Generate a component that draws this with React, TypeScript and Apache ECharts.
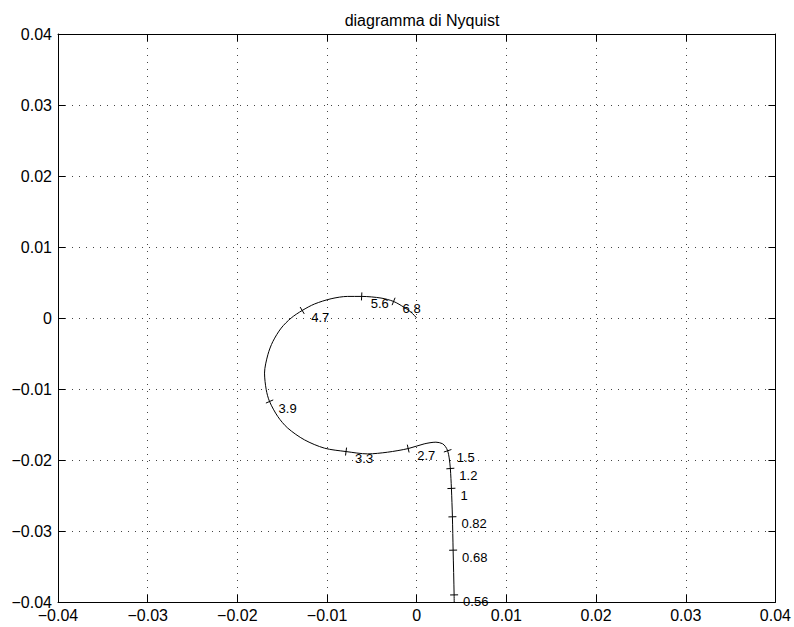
import React, { useEffect, useRef } from "react";
import * as echarts from "echarts";

// Nyquist curve (ordered by increasing frequency)
const curveX = [
  0.0042, 0.00417, 0.00406, 0.00398, 0.00387, 0.00375, 0.00362, 0.00345, 0.0032, 0.00287,
  0.00214, 0.00083, -0.00095, -0.00325, -0.00547, -0.00788, -0.01029, -0.01252, -0.01438, -0.01549,
  -0.01641, -0.01678, -0.01697, -0.0166, -0.01604, -0.01511, -0.014, -0.01277, -0.0114, -0.00955,
  -0.0077, -0.00614, -0.00398, -0.00258, -0.00139, -0.00065, 0,
];
const curveY = [
  -0.043, -0.039, -0.0327, -0.028, -0.024, -0.0212, -0.0197, -0.0187, -0.0181, -0.0177,
  -0.01749, -0.01773, -0.01839, -0.0189, -0.01914, -0.01881, -0.01833, -0.01716, -0.01551, -0.01388,
  -0.01176, -0.01011, -0.00776, -0.00518, -0.00331, -0.00142, 0.0, 0.00106, 0.00197, 0.00271,
  0.00304, 0.00304, 0.00281, 0.00233, 0.00149, 0.00084, 0,
];

// frequency marks along the curve
const freqLabels = ["0.56", "0.68", "0.82", "1", "1.2", "1.5", "2.7", "3.3", "3.9", "4.7", "5.6", "6.8"];
const freqX = [0.00417, 0.00406, 0.00398, 0.00387, 0.00375, 0.00345, -0.00095, -0.00788, -0.01641, -0.01277, -0.00614, -0.00258];
const freqY = [-0.039, -0.0327, -0.028, -0.024, -0.0212, -0.0187, -0.01839, -0.01881, -0.01176, 0.00106, 0.00304, 0.00233];

const axisMin = -0.04;
const axisMax = 0.04;
const axisStep = 0.01;
const titleText = "diagramma di Nyquist";

const FONT = "'Liberation Sans', Arial, Helvetica, sans-serif";

const fmt = (v: number) => {
  const r = Math.round(v * 1000) / 1000;
  const s = r === 0 ? "0" : String(r);
  return s.replace("-", "\u2212");
};

export default function App() {
  const ref = useRef<HTMLDivElement>(null);

  useEffect(() => {
    if (!ref.current) return;
    const chart = echarts.init(ref.current, undefined, { renderer: "svg" });

    const curveData = curveX.map((x, i) => [x, curveY[i]]);
    const tickData = freqX.map((x, i) => [x, freqY[i], i]);

    const baseAxis = {
      type: "value" as const,
      min: axisMin,
      max: axisMax,
      interval: axisStep,
      axisLine: { show: true, onZero: false, lineStyle: { color: "#000", width: 1 } },
      axisTick: { show: true, inside: true, length: 7, lineStyle: { color: "#000", width: 1 } },
    };

    chart.setOption({
      animation: false,
      backgroundColor: "#fff",
      title: {
        text: titleText,
        left: 417,
        textAlign: "center",
        top: 7,
        textStyle: { fontSize: 16, fontWeight: "normal", color: "#000", fontFamily: FONT },
      },
      grid: { left: 58, top: 34, width: 719, height: 568, containLabel: false },
      xAxis: [
        {
          ...baseAxis,
          position: "bottom",
          axisLabel: {
            formatter: fmt,
            color: "#000",
            fontSize: 16,
            fontFamily: FONT,
            margin: 5,
            showMinLabel: true,
            showMaxLabel: true,
            hideOverlap: false,
          },
          splitLine: { show: true, lineStyle: { color: "#444", width: 1, type: [1, 6] } },
        },
        {
          ...baseAxis,
          position: "top",
          axisLabel: { show: false },
          splitLine: { show: false },
        },
      ],
      yAxis: [
        {
          ...baseAxis,
          position: "left",
          axisLabel: {
            formatter: fmt,
            color: "#000",
            fontSize: 16,
            fontFamily: FONT,
            margin: 6,
            showMinLabel: true,
            showMaxLabel: true,
            hideOverlap: false,
          },
          splitLine: { show: true, lineStyle: { color: "#444", width: 1, type: [1, 6] } },
        },
        {
          ...baseAxis,
          position: "right",
          axisLabel: { show: false },
          splitLine: { show: false },
        },
      ],
      series: [
        {
          type: "line",
          data: curveData,
          xAxisIndex: 0,
          yAxisIndex: 0,
          showSymbol: false,
          symbol: "none",
          smooth: 0.3,
          clip: true,
          lineStyle: { color: "#000", width: 1 },
          silent: true,
        },
        {
          type: "custom",
          xAxisIndex: 0,
          yAxisIndex: 0,
          data: tickData,
          silent: true,
          renderItem: (params: any, api: any) => {
            const x = api.value(0);
            const y = api.value(1);
            const idx = api.value(2);
            const p = api.coord([x, y]);
            // nearest curve point for tangent direction
            let best = 0;
            let bd = Infinity;
            for (let j = 0; j < curveX.length; j++) {
              const d = (curveX[j] - x) ** 2 + (curveY[j] - y) ** 2;
              if (d < bd) {
                bd = d;
                best = j;
              }
            }
            const a = api.coord([curveX[Math.max(0, best - 1)], curveY[Math.max(0, best - 1)]]);
            const b = api.coord([
              curveX[Math.min(curveX.length - 1, best + 1)],
              curveY[Math.min(curveY.length - 1, best + 1)],
            ]);
            let tx = b[0] - a[0];
            let ty = b[1] - a[1];
            const len = Math.hypot(tx, ty) || 1;
            tx /= len;
            ty /= len;
            const nx = -ty;
            const ny = tx;
            const h = 4;
            return {
              type: "group",
              children: [
                {
                  type: "line",
                  shape: { x1: p[0] - nx * h, y1: p[1] - ny * h, x2: p[0] + nx * h, y2: p[1] + ny * h },
                  style: { stroke: "#000", lineWidth: 1 },
                },
                {
                  type: "text",
                  x: p[0] + 9,
                  y: p[1] + 7,
                  style: {
                    text: freqLabels[idx],
                    fill: "#000",
                    fontSize: 13,
                    fontFamily: FONT,
                    verticalAlign: "middle",
                    align: "left",
                  },
                },
              ],
            };
          },
        },
      ],
    });

    return () => chart.dispose();
  }, []);

  return (
    <div
      ref={ref}
      style={{ position: "fixed", left: 0, top: 0, width: 794, height: 627, overflow: "visible" }}
    />
  );
}
